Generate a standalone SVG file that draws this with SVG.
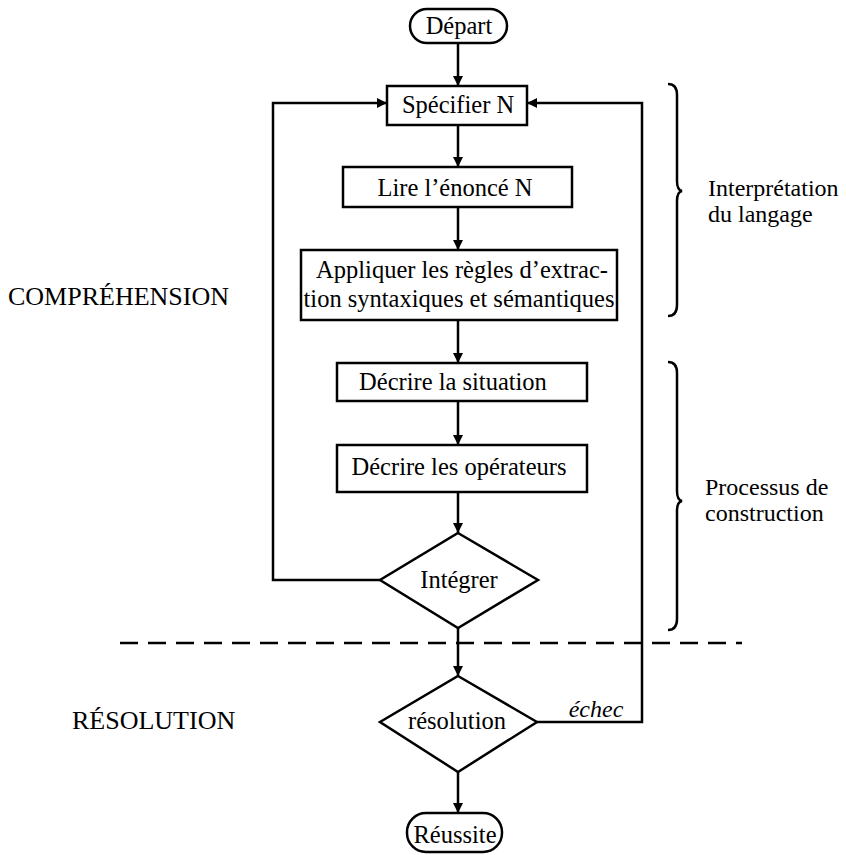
<svg xmlns="http://www.w3.org/2000/svg" width="846" height="855" viewBox="0 0 846 855">
<style>
.box{fill:#fff;stroke:#000;stroke-width:2.5}
.ln{fill:none;stroke:#000;stroke-width:2.5}
.t{font-family:"Liberation Serif",serif;font-size:24.5px;fill:#000;text-anchor:middle}
.lab{font-family:"Liberation Serif",serif;font-size:26px;fill:#000}
.side{font-family:"Liberation Serif",serif;font-size:24px;fill:#000}
</style>
<defs>
<marker id="ah" viewBox="0 0 8 8" refX="8" refY="4" markerWidth="4" markerHeight="4" orient="auto" markerUnits="strokeWidth">
<path d="M0,0 L8,4 L0,8 z" fill="#000"/>
</marker>
</defs>
<g id="connectors">
<path class="ln" d="M458,43 L458,86" marker-end="url(#ah)"/>
<path class="ln" d="M458,125 L458,167" marker-end="url(#ah)"/>
<path class="ln" d="M458,207 L458,250" marker-end="url(#ah)"/>
<path class="ln" d="M458,320 L458,363" marker-end="url(#ah)"/>
<path class="ln" d="M458,401 L458,445" marker-end="url(#ah)"/>
<path class="ln" d="M458,492 L458,533" marker-end="url(#ah)"/>
<path class="ln" d="M458,628 L458,676" marker-end="url(#ah)"/>
<path class="ln" d="M458,772 L458,813" marker-end="url(#ah)"/>
<path class="ln" d="M380,580 L273,580 L273,103 L387,103" marker-end="url(#ah)"/>
<path class="ln" d="M537,722 L642,722 L642,103 L527,103" marker-end="url(#ah)"/>
<text x="596" y="717" class="side" text-anchor="middle" font-style="italic">échec</text>
</g>
<g id="separator">
<line x1="120" y1="643" x2="742" y2="643" stroke="#000" stroke-width="2.5" stroke-dasharray="18,10"/>
</g>
<g id="depart">
<rect class="box" x="410" y="9" width="97" height="34" rx="17"/>
<text class="t" x="459" y="34">Départ</text>
</g>
<g id="specifier">
<rect class="box" x="387" y="86" width="140" height="39"/>
<text class="t" x="458" y="113">Spécifier N</text>
</g>
<g id="lire">
<rect class="box" x="343" y="167" width="229" height="40"/>
<text class="t" x="455" y="196">Lire l’énoncé N</text>
</g>
<g id="appliquer">
<rect class="box" x="301" y="250" width="316" height="70"/>
<text class="t" x="462" y="278">Appliquer les règles d’extrac-</text>
<text class="t" x="459" y="307">tion syntaxiques et sémantiques</text>
</g>
<g id="situation">
<rect class="box" x="337" y="363" width="250" height="38"/>
<text class="t" x="453" y="390">Décrire la situation</text>
</g>
<g id="operateurs">
<rect class="box" x="337" y="445" width="250" height="47"/>
<text class="t" x="459" y="475">Décrire les opérateurs</text>
</g>
<g id="integrer">
<polygon class="box" points="458,533 538,580 458,628 380,580"/>
<text class="t" x="459" y="588">Intégrer</text>
</g>
<g id="resolution">
<polygon class="box" points="458,676 537,722 458,772 380,722"/>
<text class="t" x="457" y="729">résolution</text>
</g>
<g id="reussite">
<rect class="box" x="407" y="813" width="95" height="39" rx="19"/>
<text class="t" x="455" y="843">Réussite</text>
</g>
<g id="labels">
<text class="lab" x="8" y="305">COMPRÉHENSION</text>
<text class="lab" x="72" y="729">RÉSOLUTION</text>
</g>
<g id="brace-interpretation">
<path class="ln" d="M668,84 Q677,84 677,95 L677,181 Q677,190 682,191 Q677,192 677,201 L677,305 Q677,316 668,316"/>
<text class="side" x="708" y="196">Interprétation</text>
<text class="side" x="708" y="222">du langage</text>
</g>
<g id="brace-construction">
<path class="ln" d="M668,362 Q677,362 677,373 L677,491 Q677,500 682,501 Q677,502 677,511 L677,619 Q677,630 668,630"/>
<text class="side" x="705" y="495">Processus de</text>
<text class="side" x="705" y="521">construction</text>
</g>
</svg>
